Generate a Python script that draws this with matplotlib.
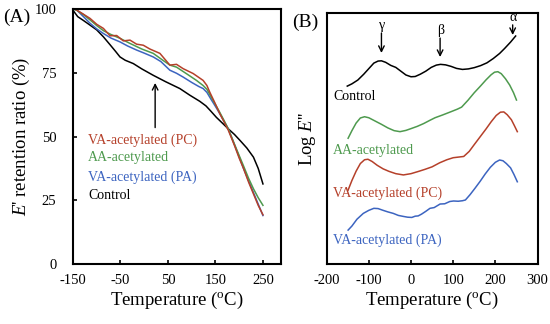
"""Storage modulus retention (A) and loss modulus (B) vs temperature."""

import matplotlib.pyplot as plt

plt.rcParams["font.family"] = ["Liberation Serif", "DejaVu Serif"]
plt.rcParams["mathtext.fontset"] = "custom"
plt.rcParams["mathtext.it"] = "Liberation Serif:italic"
plt.rcParams["mathtext.rm"] = "Liberation Serif"
plt.rcParams["axes.unicode_minus"] = False

# ---
# Panel A: E' retention ratio (%)
# ---
a_control_t = [-150, -140, -128, -115, -100, -86, -72, -60, -51, -40, -23, -5, 19, 45, 75,
               96, 117, 130, 140, 152, 166, 177, 190, 202, 216, 230, 240, 250]
a_control_v = [99.5, 97.0, 95.5, 93.8, 91.8, 89.1, 86.0, 83.3, 81.2, 79.9, 78.6, 76.5, 74.0, 71.5, 68.8,
               66.2, 63.8, 62.0, 60.0, 57.5, 55.0, 53.0, 50.8, 48.4, 45.5, 41.9, 37.5, 31.4]

a_pc_t = [-150, -146, -130, -114, -100, -86, -72, -58, -44, -30, -16, -2, 12, 33, 54, 68, 82,
          103, 124, 132, 138, 148, 159, 168, 177, 190, 200, 209, 220, 230, 240, 250]
a_pc_v = [100.0, 100.0, 98.2, 96.3, 94.0, 92.4, 89.5, 89.6, 87.5, 87.8, 86.2, 85.8, 84.3, 82.6, 78.0, 78.3, 76.6,
          74.7, 72.0, 70.0, 67.4, 63.5, 59.0, 55.8, 52.5, 46.5, 41.5, 37.5, 32.0, 27.5, 23.0, 19.3]

a_aa_t = [-150, -142, -128, -114, -100, -86, -70, -51, -30, -5, 19, 40, 54, 68, 90, 110,
          124, 132, 140, 150, 159, 168, 177, 190, 200, 209, 220, 230, 240, 250]
a_aa_v = [100.0, 99.5, 97.8, 95.7, 93.5, 91.5, 90.0, 88.5, 86.5, 84.3, 82.6, 79.8, 78.0, 77.2, 74.5, 72.0,
          70.0, 68.5, 65.8, 62.5, 59.5, 56.3, 53.0, 47.0, 42.5, 38.5, 33.5, 29.5, 26.0, 23.0]

a_pa_t = [-150, -142, -128, -114, -100, -86, -70, -51, -35, -16, 0, 19, 35, 54, 68, 82, 100, 115,
          124, 132, 140, 150, 159, 168, 177, 190, 200, 209, 220, 230, 240, 250]
a_pa_v = [100.0, 99.6, 97.0, 94.4, 92.2, 90.4, 88.6, 87.1, 85.5, 83.9, 82.7, 81.2, 79.4, 76.0, 74.8, 73.3, 71.2, 69.6,
          68.8, 67.3, 64.8, 61.8, 59.0, 56.0, 53.0, 46.8, 42.0, 37.5, 32.5, 28.0, 23.5, 19.0]

# ---
# Panel B: Log E'' (arbitrary offset units)
# ---
b_control_t = [-151, -140, -126, -112, -100, -88, -78, -70, -60, -48, -36, -24, -12, 0, 10, 22, 35,
               48, 60, 70, 82, 95, 108, 122, 136, 150, 165, 180, 195, 210, 222, 236, 248]
b_control_v = [71.1, 72.0, 73.5, 75.8, 78.0, 80.2, 81.0, 81.1, 80.5, 79.3, 78.5, 77.0, 75.5, 74.8, 74.9, 75.8, 77.0,
               78.5, 79.4, 79.7, 79.5, 78.9, 78.1, 77.7, 77.9, 78.4, 79.2, 80.3, 82.0, 84.0, 86.0, 88.5, 90.9]

b_aa_t = [-149, -140, -130, -120, -110, -100, -85, -70, -55, -40, -26, -12, 0, 15, 30, 45, 57,
          75, 95, 110, 120, 135, 150, 164, 178, 190, 198, 206, 214, 224, 234, 243, 250]
b_aa_v = [50.5, 53.5, 56.5, 58.5, 59.0, 58.6, 57.3, 56.0, 54.6, 53.5, 53.1, 53.6, 54.3, 55.2, 56.3, 57.6, 58.6,
          59.7, 61.0, 62.0, 62.8, 65.5, 68.5, 71.0, 73.6, 75.6, 76.6, 76.8, 76.0, 74.0, 71.5, 68.5, 65.6]

b_pc_t = [-149, -140, -130, -120, -110, -102, -92, -80, -66, -52, -36, -18, 0, 18, 33, 50, 68,
          85, 100, 115, 125, 138, 150, 164, 178, 190, 202, 212, 220, 228, 238, 245, 252]
b_pc_v = [30.0, 33.8, 37.5, 40.5, 42.0, 42.2, 41.3, 39.8, 38.4, 37.4, 36.5, 36.0, 36.5, 37.4, 38.2, 39.2, 40.8,
          42.0, 42.8, 43.1, 43.3, 45.3, 48.0, 51.1, 54.2, 57.0, 59.5, 60.8, 60.9, 59.8, 57.8, 55.5, 53.1]

b_pa_t = [-149, -140, -128, -113, -100, -88, -78, -66, -55, -42, -30, -18, -8, 2, 10, 17, 25, 35, 45,
          55, 62, 69, 80, 92, 101, 112, 122, 129, 140, 152, 164, 176, 188, 200, 210, 218, 226, 236, 244, 252]
b_pa_v = [14.2, 15.8, 18.5, 20.8, 22.0, 22.8, 22.7, 22.0, 21.4, 20.8, 20.0, 19.6, 19.3, 19.2, 19.7, 19.8, 20.5, 21.6, 22.8,
          23.1, 23.8, 24.5, 24.6, 25.5, 25.7, 25.6, 25.8, 26.1, 28.2, 30.8, 33.5, 36.4, 39.0, 41.0, 41.9, 41.6, 40.5, 38.8, 36.2, 33.3]

# relaxation peaks marked on the control curve
peak_names = ["\u03b3", "\u03b2", "\u03b1"]
peak_t = [-70, 69, 241]
peak_tip = [84.2, 82.6, 91.3]
peak_tail = [92.1, 90.1, 95.3]

labels = ["VA-acetylated (PC)", "AA-acetylated", "VA-acetylated (PA)", "Control"]
colors = ["#B5402A", "#4E9A4E", "#3C64C0", "black"]


def style_axes(ax):
    for spine in ax.spines.values():
        spine.set_linewidth(1.5)
    ax.tick_params(direction="in", length=3, width=1.2, labelsize=10.5)


fig = plt.figure(figsize=(5.5, 3.24), dpi=100)
ax_a = fig.add_axes([0.1327, 0.1852, 0.3782, 0.7870])
ax_b = fig.add_axes([0.5938, 0.1852, 0.3836, 0.7747])

# Panel A
ax_a.plot(a_control_t, a_control_v, color=colors[3], lw=1.1)
ax_a.plot(a_pa_t, a_pa_v, color=colors[2], lw=1.1)
ax_a.plot(a_aa_t, a_aa_v, color=colors[1], lw=1.1)
ax_a.plot(a_pc_t, a_pc_v, color=colors[0], lw=1.1)
ax_a.set_xlim(-150, 288)
ax_a.set_ylim(0, 100)
ax_a.set_xticks([-150, -50, 50, 150, 250])
ax_a.set_yticks([0, 25, 50, 75, 100])
style_axes(ax_a)
ax_a.tick_params(axis="y", pad=12)
ax_a.tick_params(axis="x", pad=7)
ax_a.set_xlabel("Temperature ($^{\\mathrm{o}}$C)", fontsize=13.5, labelpad=2)
ax_a.set_ylabel("$E$' retention ratio (%)", fontsize=13.5, labelpad=2)
for label, color, y in zip(labels, colors, [48.4, 41.7, 33.9, 26.8]):
    ax_a.text(-118, y, label, color=color, fontsize=10, va="center", ha="left")
ax_a.annotate("", xy=(23, 71), xytext=(23, 53.5),
              arrowprops=dict(arrowstyle="->", color="black", lw=1.0,
                              shrinkA=0, shrinkB=0))
fig.text(0.005, 0.945, "(A)", fontsize=14, va="center", ha="left")

# Panel B
ax_b.plot(b_control_t, b_control_v, color=colors[3], lw=1.1)
ax_b.plot(b_aa_t, b_aa_v, color=colors[1], lw=1.1)
ax_b.plot(b_pc_t, b_pc_v, color=colors[0], lw=1.1)
ax_b.plot(b_pa_t, b_pa_v, color=colors[2], lw=1.1)
ax_b.set_xlim(-200, 300)
ax_b.set_ylim(0.8, 100)
ax_b.set_xticks([-200, -100, 0, 100, 200, 300])
ax_b.set_yticks([])
style_axes(ax_b)
ax_b.tick_params(axis="x", pad=7)
ax_b.set_xlabel("Temperature ($^{\\mathrm{o}}$C)", fontsize=13.5, labelpad=2)
ax_b.set_ylabel("Log $E$''", fontsize=13.5, labelpad=6)
b_label_y = [28.9, 45.8, 10.3, 66.9]
for label, color, y in zip(labels, colors, b_label_y):
    ax_b.text(-185, y, label, color=color, fontsize=10, va="center", ha="left")
for name, t, tip, tail in zip(peak_names, peak_t, peak_tip, peak_tail):
    ax_b.annotate("", xy=(t, tip), xytext=(t, tail),
                  arrowprops=dict(arrowstyle="->", color="black", lw=1.0,
                                  shrinkA=0, shrinkB=0))
    ax_b.text(t + 2, tail + 0.3, name, fontsize=10, ha="center", va="bottom")
fig.text(0.531, 0.93, "(B)", fontsize=14, va="center", ha="left")

fig.savefig("out.png", dpi=100)
